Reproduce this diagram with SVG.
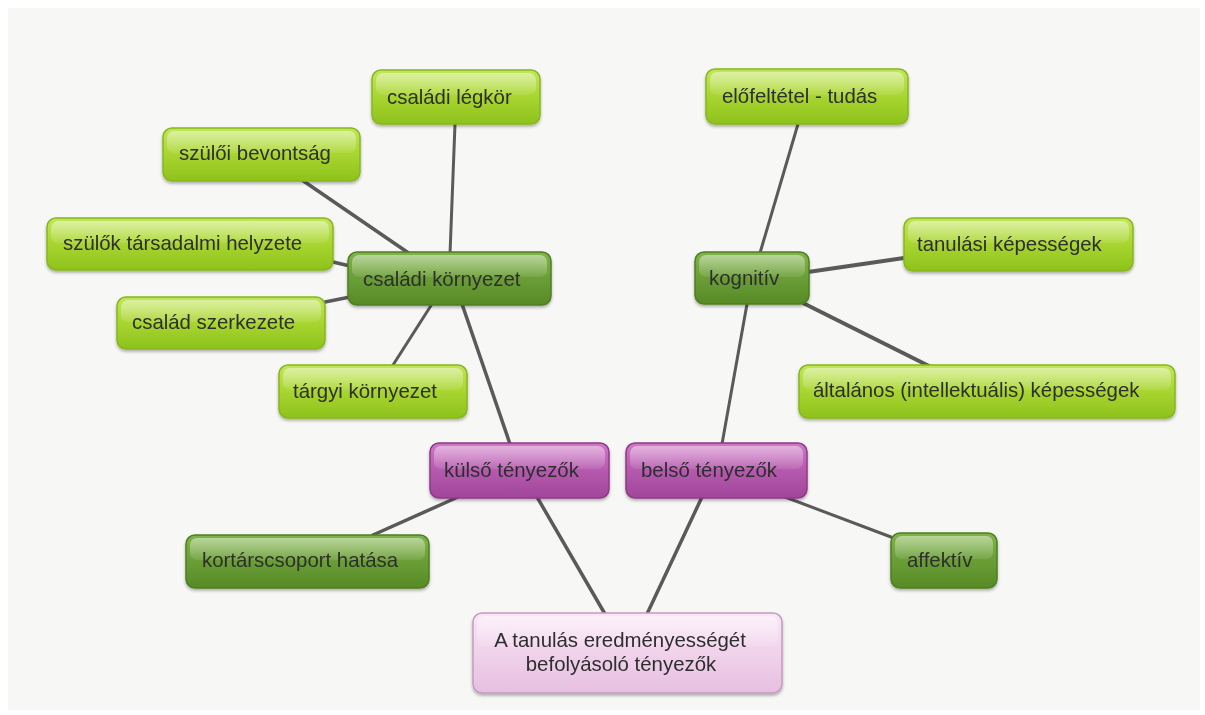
<svg xmlns="http://www.w3.org/2000/svg" width="1205" height="715" viewBox="0 0 1205 715">
<defs>
<linearGradient id="gLight" x1="0" y1="0" x2="0" y2="1">
<stop offset="0" stop-color="#c2e65a"/><stop offset="0.5" stop-color="#a8d530"/><stop offset="1" stop-color="#8ec21c"/>
</linearGradient>
<linearGradient id="gDark" x1="0" y1="0" x2="0" y2="1">
<stop offset="0" stop-color="#80b44a"/><stop offset="0.5" stop-color="#6a9e36"/><stop offset="1" stop-color="#578a26"/>
</linearGradient>
<linearGradient id="gMag" x1="0" y1="0" x2="0" y2="1">
<stop offset="0" stop-color="#cf78c6"/><stop offset="0.5" stop-color="#b55aae"/><stop offset="1" stop-color="#a0469a"/>
</linearGradient>
<linearGradient id="gPink" x1="0" y1="0" x2="0" y2="1">
<stop offset="0" stop-color="#fae6f6"/><stop offset="1" stop-color="#e6bfe0"/>
</linearGradient>
<linearGradient id="gloss" x1="0" y1="0" x2="0" y2="1">
<stop offset="0" stop-color="#ffffff" stop-opacity="0.45"/><stop offset="1" stop-color="#ffffff" stop-opacity="0.08"/>
</linearGradient>
<filter id="sh" x="-10%" y="-20%" width="120%" height="150%">
<feDropShadow dx="0" dy="2" stdDeviation="1.5" flood-color="#000" flood-opacity="0.3"/>
</filter>
</defs>
<style>
.light{fill:url(#gLight);stroke:#86b81e;stroke-width:1.5}
.dark{fill:url(#gDark);stroke:#4f7f22;stroke-width:1.5}
.mag{fill:url(#gMag);stroke:#8e3a88;stroke-width:1.5}
.pink{fill:url(#gPink);stroke:#c79ac0;stroke-width:1.5}
.gl{fill:url(#gloss)}
.t{font-family:"Liberation Sans",Arial,sans-serif;font-size:20.4px;fill:#2e2e2e}
.c{stroke:#5a5a5a;stroke-linecap:round;fill:none}
</style>
<rect x="0" y="0" width="1205" height="715" fill="#ffffff"/>
<rect x="8" y="8" width="1192" height="702" fill="#f7f7f5"/>

<g id="connectors">
<line class="c" x1="455" y1="124" x2="450" y2="254" stroke-width="3"/>
<line class="c" x1="302" y1="180" x2="410" y2="254" stroke-width="3.5"/>
<line class="c" x1="333" y1="262" x2="350" y2="266" stroke-width="3.5"/>
<line class="c" x1="325" y1="302" x2="350" y2="297" stroke-width="3.5"/>
<line class="c" x1="393" y1="365" x2="432" y2="304" stroke-width="3"/>
<line class="c" x1="462" y1="304" x2="510" y2="444" stroke-width="3.5"/>
<line class="c" x1="373" y1="535" x2="458" y2="497" stroke-width="3.5"/>
<line class="c" x1="537" y1="497" x2="605" y2="614" stroke-width="3.5"/>
<line class="c" x1="702" y1="497" x2="647" y2="614" stroke-width="3.5"/>
<line class="c" x1="785" y1="497" x2="891" y2="537" stroke-width="3"/>
<line class="c" x1="747" y1="304" x2="722" y2="444" stroke-width="3"/>
<line class="c" x1="798" y1="124" x2="760" y2="253" stroke-width="3"/>
<line class="c" x1="904" y1="258" x2="808" y2="272" stroke-width="4"/>
<line class="c" x1="803" y1="303" x2="929" y2="366" stroke-width="4"/>
</g>

<g id="n-csaladi-legkor" filter="url(#sh)">
<rect class="light" x="372" y="70" width="168" height="54" rx="9"/>
<rect class="gl" x="376" y="73" width="160" height="22" rx="7"/>
<text class="t" x="387" y="104">családi légkör</text>
</g>
<g id="n-szuloi-bevontsag" filter="url(#sh)">
<rect class="light" x="163" y="128" width="197" height="53" rx="9"/>
<rect class="gl" x="167" y="131" width="189" height="22" rx="7"/>
<text class="t" x="179" y="160">szülői bevontság</text>
</g>
<g id="n-szulok-tarsadalmi" filter="url(#sh)">
<rect class="light" x="47" y="218" width="286" height="52" rx="9"/>
<rect class="gl" x="51" y="221" width="278" height="22" rx="7"/>
<text class="t" x="63" y="250">szülők társadalmi helyzete</text>
</g>
<g id="n-csaladi-kornyezet" filter="url(#sh)">
<rect class="dark" x="348" y="252" width="203" height="53" rx="9"/>
<rect class="gl" x="352" y="255" width="195" height="22" rx="7"/>
<text class="t" x="363" y="286">családi környezet</text>
</g>
<g id="n-csalad-szerkezete" filter="url(#sh)">
<rect class="light" x="117" y="297" width="208" height="52" rx="9"/>
<rect class="gl" x="121" y="300" width="200" height="22" rx="7"/>
<text class="t" x="132" y="329">család szerkezete</text>
</g>
<g id="n-targyi-kornyezet" filter="url(#sh)">
<rect class="light" x="279" y="365" width="188" height="53" rx="9"/>
<rect class="gl" x="283" y="368" width="180" height="22" rx="7"/>
<text class="t" x="293" y="398">tárgyi környezet</text>
</g>
<g id="n-kulso" filter="url(#sh)">
<rect class="mag" x="430" y="443" width="179" height="55" rx="9"/>
<rect class="gl" x="434" y="446" width="171" height="23" rx="7"/>
<text class="t" x="444" y="477">külső tényezők</text>
</g>
<g id="n-belso" filter="url(#sh)">
<rect class="mag" x="626" y="443" width="181" height="55" rx="9"/>
<rect class="gl" x="630" y="446" width="173" height="23" rx="7"/>
<text class="t" x="641" y="477">belső tényezők</text>
</g>
<g id="n-root" filter="url(#sh)">
<rect class="pink" x="473" y="613" width="309" height="80" rx="9"/>
<rect class="gl" x="477" y="616" width="301" height="30" rx="7"/>
<text class="t" x="620" y="647" text-anchor="middle">A tanulás eredményességét</text>
<text class="t" x="621" y="671" text-anchor="middle">befolyásoló tényezők</text>
</g>
<g id="n-kortars" filter="url(#sh)">
<rect class="dark" x="186" y="535" width="243" height="53" rx="9"/>
<rect class="gl" x="190" y="538" width="235" height="22" rx="7"/>
<text class="t" x="202" y="567">kortárscsoport hatása</text>
</g>
<g id="n-affektiv" filter="url(#sh)">
<rect class="dark" x="891" y="533" width="106" height="55" rx="9"/>
<rect class="gl" x="895" y="536" width="98" height="23" rx="7"/>
<text class="t" x="907" y="567">affektív</text>
</g>
<g id="n-elofeltetel" filter="url(#sh)">
<rect class="light" x="706" y="69" width="202" height="55" rx="9"/>
<rect class="gl" x="710" y="72" width="194" height="23" rx="7"/>
<text class="t" x="722" y="103">előfeltétel - tudás</text>
</g>
<g id="n-tanulasi" filter="url(#sh)">
<rect class="light" x="904" y="218" width="229" height="53" rx="9"/>
<rect class="gl" x="908" y="221" width="221" height="22" rx="7"/>
<text class="t" x="917" y="251">tanulási képességek</text>
</g>
<g id="n-kognitiv" filter="url(#sh)">
<rect class="dark" x="695" y="252" width="114" height="52" rx="9"/>
<rect class="gl" x="699" y="255" width="106" height="22" rx="7"/>
<text class="t" x="709" y="285">kognitív</text>
</g>
<g id="n-altalanos" filter="url(#sh)">
<rect class="light" x="799" y="365" width="376" height="53" rx="9"/>
<rect class="gl" x="803" y="368" width="368" height="22" rx="7"/>
<text class="t" x="813" y="397">általános (intellektuális) képességek</text>
</g>
</svg>
